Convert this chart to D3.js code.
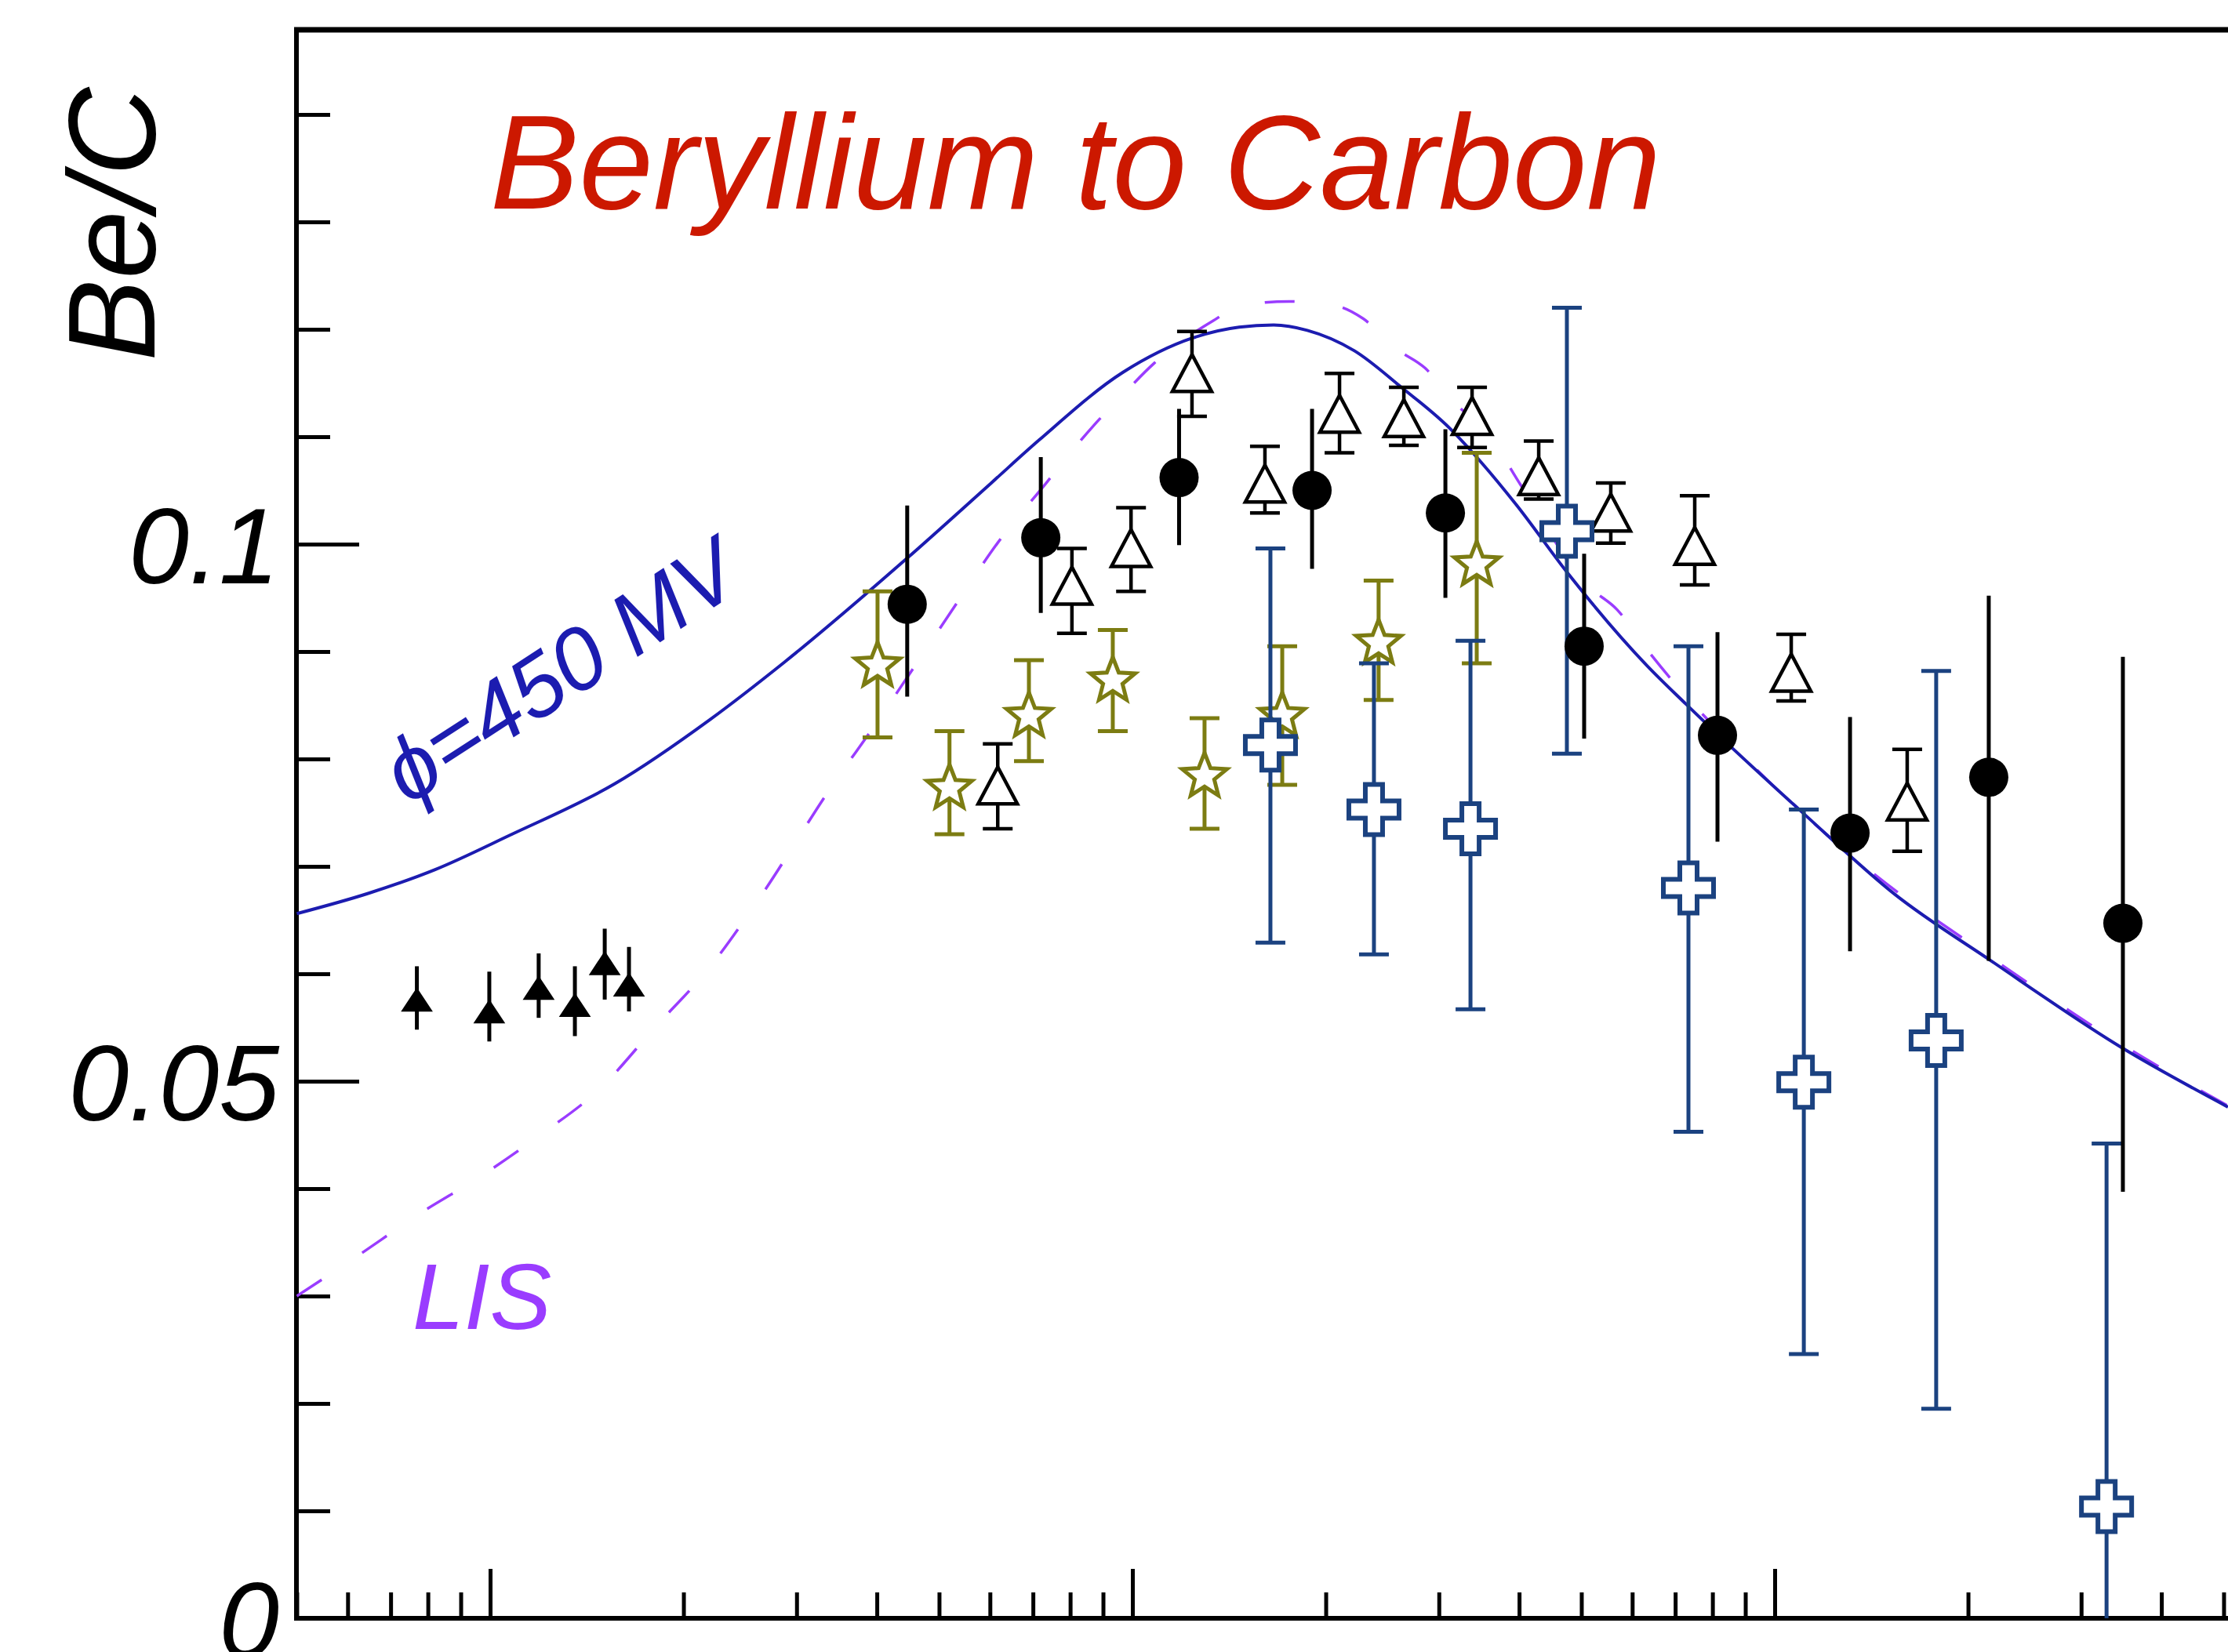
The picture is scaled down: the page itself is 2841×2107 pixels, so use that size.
<!DOCTYPE html>
<html><head><meta charset="utf-8">
<script src="https://cdn.jsdelivr.net/npm/d3@7"></script>
<style>html,body{margin:0;padding:0;background:#fff;overflow:hidden}</style>
</head><body>
<svg id="chart" width="2841" height="2107"></svg>
<script>
// ---------------- data (E in GeV/n, ratio Be/C) ----------------
const aceE  = [0.0769, 0.0997, 0.119, 0.1355, 0.1508, 0.1645];
const aceV  = [0.0575, 0.0564, 0.0586, 0.0570, 0.0609, 0.0589];
const aceHi = [0.0607, 0.0602, 0.0619, 0.0607, 0.0642, 0.0625];
const aceLo = [0.0548, 0.0537, 0.0559, 0.0542, 0.0576, 0.0565];

const circE  = [0.446, 0.720, 1.182, 1.904, 3.071, 5.05, 8.145, 13.10, 21.54, 34.84];
const circV  = [0.0944, 0.1006, 0.1062, 0.1050, 0.1029, 0.0905, 0.0822, 0.0731, 0.0783, 0.0647];
const circHi = [0.1036, 0.1081, 0.1126, 0.1126, 0.1107, 0.0991, 0.0918, 0.0839, 0.0952, 0.0895];
const circLo = [0.0858, 0.0936, 0.0999, 0.0977, 0.0950, 0.0819, 0.0723, 0.0621, 0.0612, 0.0397];

const triE  = [0.617, 0.805, 0.995, 1.238, 1.608, 2.101, 2.646, 3.379, 4.291, 5.556, 7.507, 10.61, 16.08];
const triV  = [0.0775, 0.0961, 0.0996, 0.1159, 0.1056, 0.1121, 0.1117, 0.1119, 0.1063, 0.1029, 0.0998, 0.0880, 0.0760];
const triHi = [0.0814, 0.0996, 0.1034, 0.1198, 0.1091, 0.1159, 0.1146, 0.1146, 0.1096, 0.1057, 0.1045, 0.0916, 0.0809];
const triLo = [0.0735, 0.0917, 0.0956, 0.1119, 0.1029, 0.1085, 0.1092, 0.1090, 0.1042, 0.1001, 0.0962, 0.0854, 0.0714];

const starE  = [0.401, 0.519, 0.690, 0.932, 1.295, 1.711, 2.417, 3.436];
const starV  = [0.0889, 0.0775, 0.0842, 0.0875, 0.0786, 0.0842, 0.0910, 0.0983];
const starHi = [0.0956, 0.0826, 0.0892, 0.0920, 0.0838, 0.0905, 0.0966, 0.1085];
const starLo = [0.0820, 0.0730, 0.0798, 0.0826, 0.0735, 0.0776, 0.0855, 0.0889];

const crossE  = [1.640, 2.377, 3.360, 4.747, 7.340, 11.10, 17.84, 32.86];
const crossV  = [0.0813, 0.0753, 0.0735, 0.1012, 0.0680, 0.0499, 0.0538, 0.0104];
const crossHi = [0.0996, 0.0889, 0.0910, 0.1220, 0.0905, 0.0753, 0.0882, 0.0442];
const crossLo = [0.0629, 0.0618, 0.0567, 0.0805, 0.0453, 0.0246, 0.0195, -0.0235];

const phiE = [0.05, 0.0647, 0.0821, 0.1073, 0.1564, 0.2203, 0.287, 0.446, 0.603, 0.716, 0.967, 1.242, 1.466, 1.659, 1.872, 2.216, 2.623, 3.105, 3.505, 3.955, 4.775, 6.324, 7.278, 11.10, 15.38, 21.73, 34.75, 50.78];
const phiV = [0.0656, 0.0675, 0.0697, 0.0729, 0.0777, 0.0837, 0.0890, 0.0987, 0.1057, 0.1097, 0.1160, 0.1192, 0.1202, 0.1204, 0.1199, 0.1180, 0.1146, 0.1109, 0.1075, 0.1037, 0.0972, 0.0887, 0.0851, 0.0749, 0.0674, 0.0612, 0.0531, 0.0476];

const lisE = [0.05, 0.0617, 0.0778, 0.0964, 0.1197, 0.1482, 0.1805, 0.2203, 0.263, 0.3407, 0.401, 0.4565, 0.530, 0.6166, 0.732, 0.869, 0.959, 1.079, 1.336, 1.474, 1.754, 2.071, 2.286, 2.572, 2.854, 3.193, 3.534, 4.033, 5.093, 5.684, 6.324, 9.268, 14.13, 21.73, 34.75, 50.78];
const lisV = [0.0300, 0.0336, 0.0377, 0.0411, 0.0450, 0.0493, 0.0550, 0.0607, 0.0671, 0.0775, 0.0835, 0.0885, 0.0943, 0.1001, 0.1056, 0.1110, 0.1137, 0.1168, 0.1208, 0.1222, 0.1226, 0.1222, 0.1210, 0.1182, 0.1164, 0.1130, 0.1107, 0.1054, 0.0962, 0.0939, 0.0902, 0.0793, 0.0695, 0.0615, 0.0534, 0.0477];

const yMajorTicks = [0, 0.05, 0.1];
const yMajorLabels = ["0", "0.05", "0.1"];
const yMinorTicks = [0.01, 0.02, 0.03, 0.04, 0.06, 0.07, 0.08, 0.09, 0.11, 0.12, 0.13, 0.14];
const xMajorTicks = [0.1, 1, 10];
const xDecades = [0.01, 0.1, 1, 10];
const xMultipliers = [2, 3, 4, 5, 6, 7, 8, 9];

// ---------------- layout ----------------
const W = 2841, H = 2107;
const pLeft = 378, pTop = 38, pBottom = 2064;
const x = d3.scaleLog().domain([0.1, 10]).range([625, 2263]);
const y = d3.scaleLinear().domain([0, 0.1]).range([pBottom, pBottom - 1370]);

const svg = d3.select("#chart");
const FONT = "'Liberation Sans', Arial, Helvetica, sans-serif";

svg.append("defs").append("clipPath").attr("id", "plot")
  .append("rect").attr("x", pLeft).attr("y", pTop).attr("width", W - pLeft).attr("height", pBottom - pTop);

// ---------------- axes ----------------
const xMinor = [];
xDecades.forEach(d => xMultipliers.forEach(m => {
  const v = +(d * m).toPrecision(3);
  if (x(v) >= pLeft && x(v) <= W) xMinor.push(v);
}));

const gx = svg.append("g").attr("transform", `translate(0,${pBottom})`);
gx.append("g").call(d3.axisBottom(x).tickValues(xMinor).tickSize(-33).tickSizeOuter(0).tickFormat(""));
gx.append("g").call(d3.axisBottom(x).tickValues(xMajorTicks).tickSize(-63).tickSizeOuter(0).tickFormat(""));
gx.selectAll("path.domain").remove();
gx.append("line").attr("x1", pLeft).attr("x2", W).attr("y1", 0).attr("y2", 0)
  .attr("stroke", "#000").attr("stroke-width", 6);

const gy = svg.append("g").attr("transform", `translate(${pLeft},0)`);
gy.append("g").call(d3.axisLeft(y).tickValues(yMinorTicks).tickSize(-43).tickSizeOuter(0).tickFormat(""));
gy.append("g").attr("class", "ymaj").call(d3.axisLeft(y).tickValues(yMajorTicks).tickSize(-80).tickSizeOuter(0)
  .tickPadding(22).tickFormat((d, i) => yMajorLabels[i]));
gy.selectAll("path.domain").remove();
gy.append("line").attr("x1", 0).attr("x2", 0).attr("y1", pTop).attr("y2", pBottom + 3)
  .attr("stroke", "#000").attr("stroke-width", 6);
svg.selectAll(".tick line").attr("stroke", "#000").attr("stroke-width", 5);
gy.selectAll(".ymaj text").attr("font-family", FONT).attr("font-style", "italic")
  .attr("font-size", 138).attr("fill", "#000").attr("dy", "0.36em");

// top frame
svg.append("line").attr("x1", pLeft - 3).attr("x2", W).attr("y1", pTop).attr("y2", pTop)
  .attr("stroke", "#000").attr("stroke-width", 7);

// ---------------- curves ----------------
const plot = svg.append("g").attr("clip-path", "url(#plot)");
const line = d3.line().x(d => x(d[0])).y(d => y(d[1])).curve(d3.curveMonotoneX);
plot.append("path").datum(lisE.map((e, i) => [e, lisV[i]])).attr("d", line)
  .attr("fill", "none").attr("stroke", "#9a3cff").attr("stroke-width", 3.5).attr("stroke-dasharray", "38,62");
plot.append("path").datum(phiE.map((e, i) => [e, phiV[i]])).attr("d", line)
  .attr("fill", "none").attr("stroke", "#1c1cb0").attr("stroke-width", 4);

// ---------------- data series ----------------
function errorBars(E, V, Lo, Hi, color, width, cap) {
  const g = plot.append("g").attr("stroke", color).attr("stroke-width", width);
  E.forEach((e, i) => {
    const cx = x(e);
    g.append("line").attr("x1", cx).attr("x2", cx).attr("y1", y(Lo[i])).attr("y2", y(Hi[i]));
    if (cap) {
      [Lo[i], Hi[i]].forEach(v => g.append("line")
        .attr("x1", cx - cap / 2).attr("x2", cx + cap / 2).attr("y1", y(v)).attr("y2", y(v)));
    }
  });
}
function markers(E, V, pathD, fill, stroke, sw) {
  const g = plot.append("g");
  E.forEach((e, i) => {
    g.append("path").attr("d", pathD).attr("transform", `translate(${x(e)},${y(V[i])})`)
      .attr("fill", fill).attr("stroke", stroke).attr("stroke-width", sw).attr("stroke-linejoin", "miter");
  });
}

// shapes
const triSmall = "M0,-15L18.5,13L-18.5,13Z";
const triOpen = "M0,-24L25,23L-25,23Z";
const starPts = [];
for (let k = 0; k < 10; k++) {
  const r = k % 2 === 0 ? 30 : 13;
  const ang = -Math.PI / 2 + k * Math.PI / 5;
  starPts.push([r * Math.cos(ang), r * Math.sin(ang) + 3]);
}
const starPath = "M" + starPts.map(p => p[0].toFixed(1) + "," + p[1].toFixed(1)).join("L") + "Z";
const armW = 11, armL = 32;
const crossPath = `M${-armW},${-armL}H${armW}V${-armW}H${armL}V${armW}H${armW}V${armL}H${-armW}V${armW}H${-armL}V${-armW}H${-armW}Z`;

// ACE (small filled triangles)
errorBars(aceE, aceV, aceLo, aceHi, "#000", 5, 0);
markers(aceE, aceV, triSmall, "#000", "#000", 2);

// stars (olive)
errorBars(starE, starV, starLo, starHi, "#7c7c12", 5, 38);
markers(starE, starV, starPath, "#fff", "#7c7c12", 5);

// open triangles
errorBars(triE, triV, triLo, triHi, "#000", 4.5, 38);
markers(triE, triV, triOpen, "#fff", "#000", 4.5);

// crosses (blue)
errorBars(crossE, crossV, crossLo, crossHi, "#1b4280", 5, 38);
markers(crossE, crossV, crossPath, "#fff", "#1b4280", 6);

// filled circles
errorBars(circE, circV, circLo, circHi, "#000", 5, 0);
const gc = plot.append("g");
circE.forEach((e, i) => gc.append("circle").attr("cx", x(e)).attr("cy", y(circV[i])).attr("r", 25).attr("fill", "#000"));

// ---------------- texts ----------------
svg.append("text").attr("x", 625).attr("y", 266)
  .attr("font-family", FONT).attr("font-style", "italic").attr("font-size", 170)
  .attr("fill", "#cc1800").text("Beryllium to Carbon");

svg.append("text").attr("transform", "translate(197,286) rotate(-90)").attr("text-anchor", "middle")
  .attr("font-family", FONT).attr("font-style", "italic").attr("font-size", 157)
  .attr("fill", "#000").text("Be/C");

svg.append("text").attr("x", 526).attr("y", 1695)
  .attr("font-family", FONT).attr("font-style", "italic").attr("font-size", 118)
  .attr("fill", "#9a3cff").text("LIS");

svg.append("text").attr("transform", "translate(520,1028) rotate(-33)")
  .attr("font-family", FONT).attr("font-style", "italic").attr("font-size", 112)
  .attr("fill", "#1c1cb0").text("\u03D5=450 MV");
</script>
</body></html>
